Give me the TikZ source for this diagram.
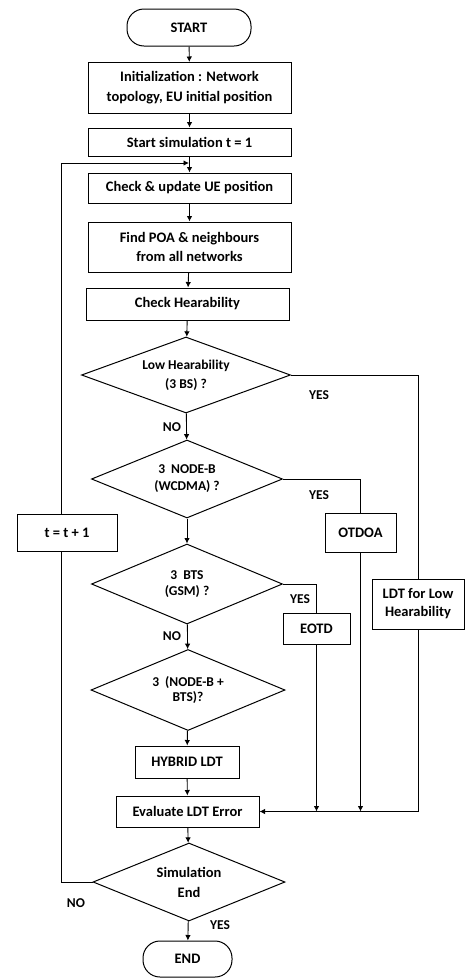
\documentclass[tikz,border=0pt]{standalone}
\usepackage{fontspec}
\setmainfont{Carlito}
\usetikzlibrary{shapes.geometric,arrows.meta}
\begin{document}
\begin{tikzpicture}[x=1pt,y=-1pt,
  every node/.style={font=\bfseries\fontsize{14.5}{20}\selectfont, text=black},
  box/.style={draw, line width=1pt, fill=white, inner sep=0pt, align=center, minimum width=#1},
  term/.style={draw, line width=1pt, rounded corners=17pt, inner sep=0pt, align=center},
  dia/.style={draw, diamond, aspect=2.5, line width=1pt, inner sep=0pt, align=center, font=\bfseries\fontsize{13.5}{18}\selectfont},
  lbl/.style={font=\bfseries\fontsize{13.5}{15}\selectfont},
  ln/.style={line width=0.9pt},
  arr/.style={line width=0.9pt, -{Latex[length=5.5pt,width=5.5pt]}}
]
\useasboundingbox (0,0) rectangle (465,978);
% nodes
\node[term, minimum width=124pt, minimum height=37pt] (start) at (189,27.5) {START};
\node[box=203pt, minimum height=51pt] (init) at (189.5,88) {Initialization : Network\\topology, EU initial position};
\node[box=203pt, minimum height=28pt] (sim) at (189.5,142) {Start simulation t = 1};
\node[box=203pt, minimum height=30pt] (check) at (189.5,188) {Check \& update UE position};
\node[box=203pt, minimum height=50pt, font=\bfseries\fontsize{14.5}{19}\selectfont] (find) at (189.5,247) {Find POA \& neighbours\\from all networks};
\node[box=203pt, minimum height=32pt] (hear) at (187.5,304) {Check Hearability};
\node[dia, aspect=2.75, minimum width=209pt, minimum height=76pt, font=\bfseries\fontsize{13.5}{19}\selectfont] (d1) at (186,375) {Low Hearability\\(3 BS) ?};
\node[dia, aspect=2.45, minimum width=191pt, minimum height=78pt, font=\bfseries\fontsize{13.5}{17}\selectfont] (d2) at (187,479) {3~~NODE-B\\(WCDMA) ?};
\node[dia, aspect=2.4, minimum width=191pt, minimum height=80pt, font=\bfseries\fontsize{13.5}{16}\selectfont] (d3) at (187,584) {3~~BTS\\(GSM) ?};
\node[dia, aspect=2.4, minimum width=194pt, minimum height=81pt, font=\bfseries\fontsize{13.5}{15.5}\selectfont] (d4) at (188,690) {3~~(NODE-B +\\BTS)?};
\node[box=104pt, minimum height=32pt] (hyb) at (187,762) {HYBRID LDT};
\node[box=143pt, minimum height=31pt] (eval) at (187.5,811.5) {Evaluate LDT Error};
\node[dia, aspect=2.45, minimum width=192pt, minimum height=78pt, font=\bfseries\fontsize{14.5}{20}\selectfont] (d5) at (189,882) {Simulation\\End};
\node[term, minimum width=89pt, minimum height=36pt] (end) at (187.5,959) {END};
\node[box=100pt, minimum height=37pt] (tt) at (67,532.5) {t = t + 1};
\node[box=71pt, minimum height=39pt] (otdoa) at (360.5,532.5) {OTDOA};
\node[box=67pt, minimum height=31pt] (eotd) at (316.5,628.5) {EOTD};
\node[box=92pt, minimum height=50pt, font=\bfseries\fontsize{14.5}{18}\selectfont] (ldt) at (418,604) {LDT for Low\\Hearability};
\coordinate (join) at (189,163);
% main flow
\draw[arr] (start) -- (init);
\draw[arr] (init) -- (sim);
\draw[arr] (sim) -- (check);
\draw[arr] (check) -- (find);
\draw[arr] (find) -- (hear);
\draw[arr] (hear) -- (d1);
\draw[arr] (d1) -- (d2);
\draw[arr] (d2) -- (d3);
\draw[arr] (d3) -- (d4);
\draw[arr] (d4) -- (hyb);
\draw[arr] (hyb) -- (eval);
\draw[arr] (eval) -- (d5);
\draw[arr] (d5) -- (end);
% branches
\draw[ln] (d1.east) -| (ldt.north);
\draw[arr] (ldt.south) |- (eval.east);
\draw[ln] (d2.east) -| (otdoa.north);
\draw[arr] (otdoa.south) -- (otdoa.south |- eval.east);
\draw[ln] (d3.east) -| (eotd.north);
\draw[arr] (eotd.south) -- (eotd.south |- eval.east);
% loop
\draw[ln] (d5.west) -| ([xshift=-6pt]tt.south);
\draw[arr] ([xshift=-6pt]tt.north) |- (join);
% labels
\node[lbl] (y1) at (319,395) {YES};
\node[lbl] (y2) at (319,495) {YES};
\node[lbl] (y3) at (300,599) {YES};
\node[lbl] (n1) at (172,427) {NO};
\node[lbl] (n2) at (172,636) {NO};
\node[lbl] (n3) at (76,903) {NO};
\node[lbl] (y4) at (220,925) {YES};
\end{tikzpicture}
\end{document}
